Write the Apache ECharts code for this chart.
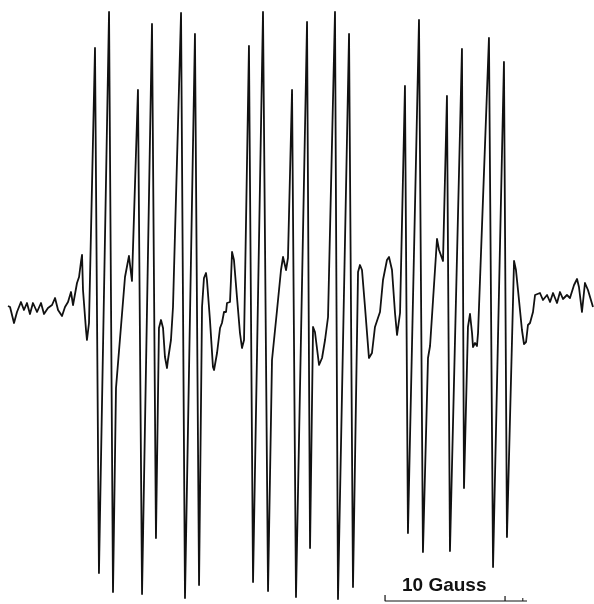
<!DOCTYPE html>
<html>
<head>
<meta charset="utf-8">
<script src="https://cdn.jsdelivr.net/npm/echarts@6/dist/echarts.min.js"></script>
<style>
  html, body { margin: 0; padding: 0; background: #ffffff; }
  #chart { width: 594px; height: 604px; }
</style>
</head>
<body>
<div id="chart"></div>
<script>
// EPR first-derivative spectrum: field offset (Gauss) and signal (arb. units)
const fieldG = [
  0, 0.17, 0.5, 0.75, 1.08, 1.33, 1.58, 1.83, 2.08, 2.42, 2.75, 3.0, 3.33, 3.67, 3.92, 4.17, 4.5, 4.75, 5.0, 5.25,
  5.42, 5.75, 5.92, 6.08, 6.17, 6.25, 6.5, 6.58, 6.75,
  7.25, 7.58, 8.42, 8.75, 9.0, 9.75, 10.08, 10.33, 10.83, 11.17, 12.0, 12.33,
  12.58, 12.75, 12.92, 13.08, 13.25, 13.33, 13.58, 13.75,
  14.42, 14.75, 15.58, 15.92,
  16.17, 16.33, 16.5, 16.58, 16.83, 17.08, 17.17, 17.42, 17.67, 17.83, 18.0, 18.17, 18.25, 18.5, 18.58, 18.67, 18.83, 19.08, 19.33, 19.5, 19.67,
  20.08, 20.42, 21.25, 21.67,
  22.0, 22.42, 22.75, 22.92, 23.17, 23.33,
  23.67, 24.0, 24.92, 25.17,
  25.42, 25.58, 25.92, 26.17, 26.42, 26.67,
  27.25, 27.5, 28.42, 28.75,
  29.17, 29.33, 29.5, 29.75, 30.08, 30.33, 30.58, 30.83, 31.0, 31.25, 31.58, 31.75, 32.0, 32.25, 32.42, 32.67,
  33.08, 33.33, 34.25, 34.58,
  35.0, 35.17, 35.42, 35.75, 35.92, 36.25,
  36.58, 36.83, 37.83, 38.0,
  38.33, 38.5, 38.67, 38.75, 38.92, 39.08, 39.17,
  40.08, 40.42, 41.33, 41.58,
  42.17, 42.33, 42.5, 42.83, 43.0, 43.17, 43.33, 43.5, 43.75, 43.92,
  44.08, 44.33, 44.58, 44.92, 45.17, 45.42, 45.75, 46.0, 46.25, 46.58, 46.83, 47.17, 47.42, 47.58, 47.83, 48.08, 48.33, 48.75
];
const signal = [
  -1, -2, -18, -7, 3, -5, 2, -9, 2, -7, 2, -9, -3, 0, 7, -5, -11, -2, 3, 13,
  0, 22, 28, 43, 50, 15, -25, -35, -18,
  257, -268, 293, -287, -83, 28, 49, 24, 215, -289, 281, -233,
  -23, -15, -23, -52, -63, -55, -35, -2,
  292, -293, 271, -280,
  -2, 27, 32, 25, -15, -62, -65, -48, -23, -18, -7, -7, 2, 3, 25, 53, 45, 8, -28, -43, -35,
  259, -277, 293, -286,
  -55, -5, 35, 48, 35, 47,
  215, -292, 283, -243,
  -22, -27, -60, -53, -35, -12,
  293, -294, 271, -282,
  33, 40, 35, -2, -53, -48, -22, -13, -7, 25, 45, 48, 35, -8, -30, -8,
  219, -228, 285, -247,
  -53, -41, 5, 66, 55, 44,
  209, -246, 256, -183,
  -22, -9, -28, -42, -38, -41, -28,
  267, -262, 243, -232,
  44, 35, 15, -25, -39, -37, -20, -18, -7, 10,
  8, 12, 5, 10, 3, 12, 2, 13, 6, 10, 7, 20, 26, 18, -7, 22, 15, -2
];
// scale bar annotation (Gauss)
const scaleStartG = 31.42;
const scaleLengthG = 10;
const scaleTailG = 43.25;
const scaleLabel = '10 Gauss';

const spectrum = fieldG.map((g, i) => [g, signal[i]]);
const barY = -296, tickY = -290;

const chart = echarts.init(document.getElementById('chart'), null, { renderer: 'canvas' });
chart.setOption({
  animation: false,
  backgroundColor: '#ffffff',
  grid: { left: 8, right: 0, top: 0, bottom: 0 },
  xAxis: { type: 'value', min: 0, max: 586 / 12, show: false },
  yAxis: { type: 'value', min: -299, max: 305, show: false },
  series: [
    {
      type: 'line', data: spectrum, symbol: 'none', smooth: false,
      lineStyle: { color: '#111111', width: 1.8, join: 'round' }
    },
    {
      type: 'line', symbol: 'none',
      data: [[scaleStartG, tickY], [scaleStartG, barY], [scaleTailG, barY]],
      lineStyle: { color: '#111111', width: 1.2 }
    },
    {
      type: 'line', symbol: 'none',
      data: [[scaleStartG + scaleLengthG, barY], [scaleStartG + scaleLengthG, tickY - 1]],
      lineStyle: { color: '#111111', width: 1.2 }
    },
    {
      type: 'line', symbol: 'none',
      data: [[scaleTailG - 0.35, barY], [scaleTailG - 0.35, barY + 3]],
      lineStyle: { color: '#111111', width: 1 }
    }
  ],
  graphic: [
    {
      type: 'text', left: 402, top: 576,
      style: { text: scaleLabel, font: 'bold 19px "Liberation Sans", Arial, sans-serif', fill: '#111111' }
    }
  ]
});
</script>
</body>
</html>
